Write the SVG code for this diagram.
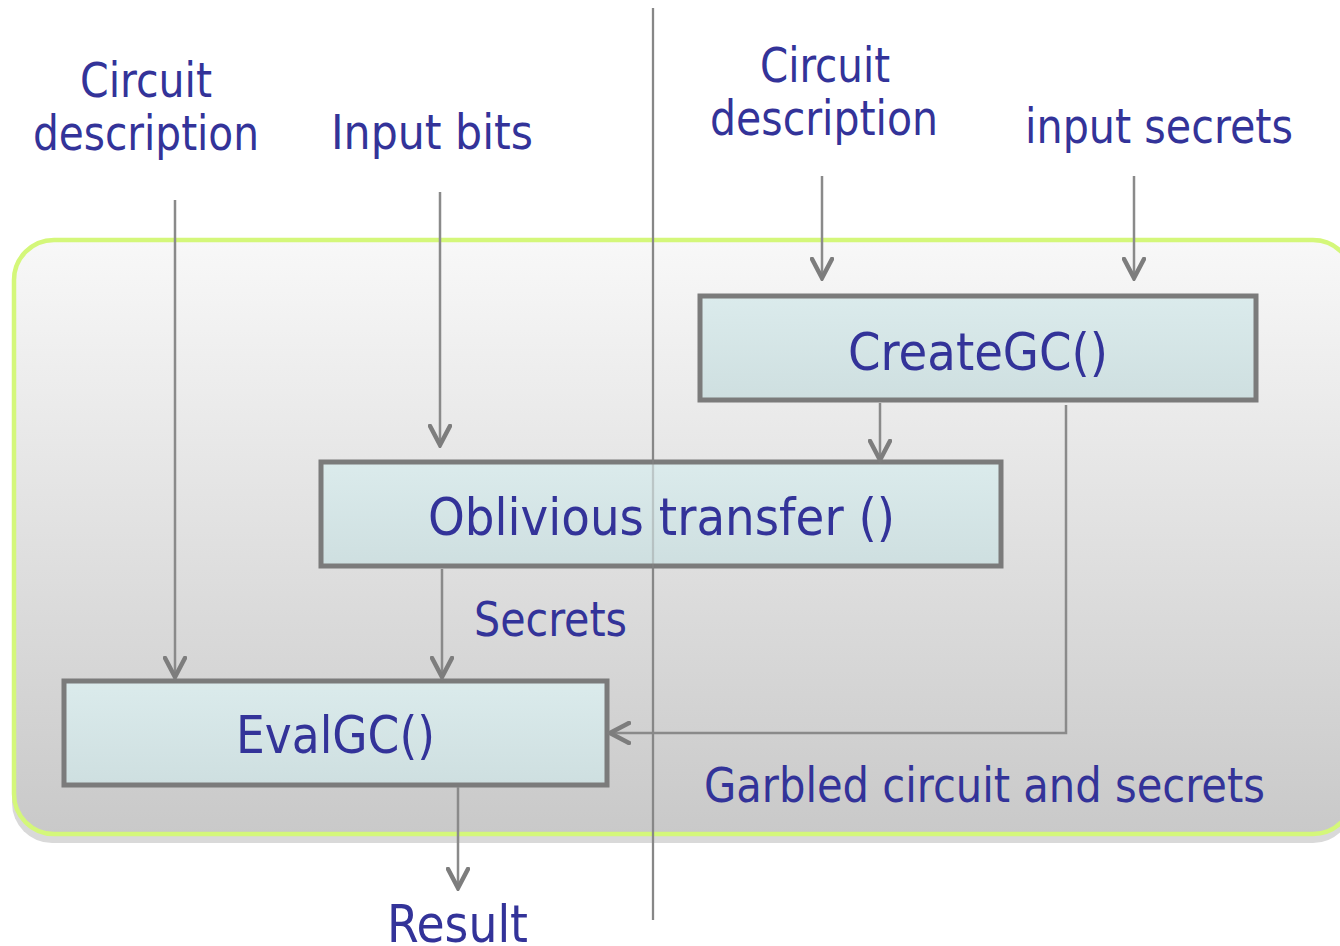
<svg xmlns="http://www.w3.org/2000/svg" width="1340" height="946" viewBox="0 0 1340 946">
  <defs>
    <linearGradient id="panelFill" x1="0" y1="0" x2="0" y2="1">
      <stop offset="0" stop-color="#f8f8f8"/>
      <stop offset="1" stop-color="#c9c9c9"/>
    </linearGradient>
    <linearGradient id="boxFill" x1="0" y1="0" x2="0" y2="1">
      <stop offset="0" stop-color="#dbebec"/>
      <stop offset="1" stop-color="#cedfe0"/>
    </linearGradient>
    <!-- open chevron head, tip on the line end -->
    <marker id="arrow" viewBox="0 0 24 24" refX="21" refY="12" markerWidth="24" markerHeight="24" markerUnits="userSpaceOnUse" orient="auto">
      <path d="M2,2 L21,12 L2,22" fill="none" stroke="#7d7d7d" stroke-width="4.5" stroke-linecap="round" stroke-linejoin="miter"/>
    </marker>
  </defs>
  <style>
    .lbl { font-family: "DejaVu Sans Condensed", "DejaVu Sans", sans-serif; fill: #333399; }
    .box rect { fill: url(#boxFill); stroke: #7b7b7b; stroke-width: 5; }
    .wire { fill: none; stroke: #8a8a8a; stroke-width: 2.5; }
  </style>

  <rect width="1340" height="946" fill="#ffffff"/>

  <!-- rounded panel with drop shadow -->
  <g id="panel">
    <rect x="12" y="247" width="1341" height="596" rx="40" fill="#d9d9d9"/>
    <rect x="14" y="240" width="1339" height="594" rx="40" fill="url(#panelFill)" stroke="#d4f77a" stroke-width="4.5"/>
  </g>

  <!-- party divider -->
  <line x1="653" y1="8" x2="653" y2="920" stroke="#888888" stroke-width="2.2"/>

  <!-- input labels -->
  <g id="label-circuit-left">
    <text class="lbl" x="80" y="97" font-size="48" textLength="132" lengthAdjust="spacingAndGlyphs">Circuit</text>
    <text class="lbl" x="33" y="150" font-size="48" textLength="226" lengthAdjust="spacingAndGlyphs">description</text>
  </g>
  <g id="label-input-bits">
    <text class="lbl" x="331" y="149" font-size="48" textLength="202" lengthAdjust="spacingAndGlyphs">Input bits</text>
  </g>
  <g id="label-circuit-right">
    <text class="lbl" x="760" y="82" font-size="48" textLength="130" lengthAdjust="spacingAndGlyphs">Circuit</text>
    <text class="lbl" x="710" y="135" font-size="48" textLength="228" lengthAdjust="spacingAndGlyphs">description</text>
  </g>
  <g id="label-input-secrets">
    <text class="lbl" x="1025" y="143" font-size="48" textLength="268" lengthAdjust="spacingAndGlyphs">input secrets</text>
  </g>

  <!-- process boxes -->
  <g id="create-gc" class="box">
    <rect x="700" y="296" width="556" height="104"/>
    <text class="lbl" x="848" y="370" font-size="52" textLength="260" lengthAdjust="spacingAndGlyphs">CreateGC()</text>
  </g>
  <g id="oblivious-transfer" class="box">
    <rect x="321" y="462" width="680" height="104"/>
    <text class="lbl" x="428" y="535" font-size="52" textLength="467" lengthAdjust="spacingAndGlyphs">Oblivious transfer ()</text>
  </g>
  <g id="eval-gc" class="box">
    <rect x="64" y="681" width="543" height="104"/>
    <text class="lbl" x="236" y="753" font-size="52" textLength="199" lengthAdjust="spacingAndGlyphs">EvalGC()</text>
  </g>

  <!-- output and edge labels -->
  <g id="label-secrets">
    <text class="lbl" x="474" y="636" font-size="48" textLength="153" lengthAdjust="spacingAndGlyphs">Secrets</text>
  </g>
  <g id="label-garbled">
    <text class="lbl" x="704" y="802" font-size="48" textLength="561" lengthAdjust="spacingAndGlyphs">Garbled circuit and secrets</text>
  </g>
  <g id="label-result">
    <text class="lbl" x="387" y="942" font-size="52" textLength="141" lengthAdjust="spacingAndGlyphs">Result</text>
  </g>

  <!-- connectors -->
  <g id="connectors">
    <line class="wire" x1="175" y1="200" x2="175" y2="677" marker-end="url(#arrow)"/>
    <line class="wire" x1="440" y1="192" x2="440" y2="445" marker-end="url(#arrow)"/>
    <line class="wire" x1="822" y1="176" x2="822" y2="278" marker-end="url(#arrow)"/>
    <line class="wire" x1="1134" y1="176" x2="1134" y2="278" marker-end="url(#arrow)"/>
    <line class="wire" x1="880" y1="403" x2="880" y2="460" marker-end="url(#arrow)"/>
    <line class="wire" x1="442" y1="569" x2="442" y2="677" marker-end="url(#arrow)"/>
    <line class="wire" x1="458" y1="787" x2="458" y2="888" marker-end="url(#arrow)"/>
    <polyline class="wire" points="1066,405 1066,733 610,733" marker-end="url(#arrow)"/>
  </g>

  <!-- divider showing faintly through the boxes -->
  <line x1="653" y1="8" x2="653" y2="920" stroke="#888888" stroke-width="2.2" stroke-opacity="0.35"/>
</svg>
